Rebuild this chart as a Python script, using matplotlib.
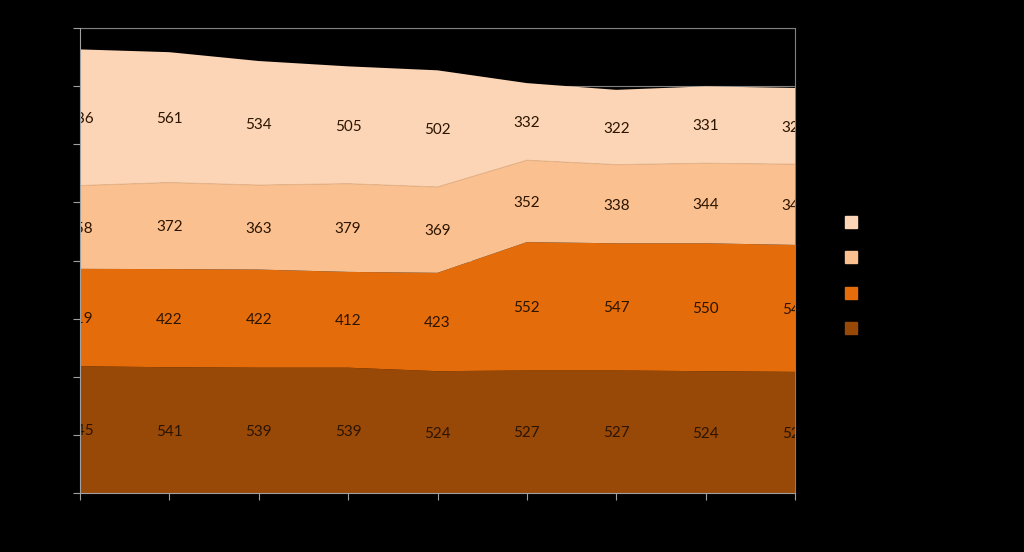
import numpy as np
import matplotlib
matplotlib.use('Agg')
import matplotlib.pyplot as plt
from matplotlib.lines import Line2D

# Data, bottom band first
categories = ['2004', '2005', '2006', '2007', '2008', '2009', '2010', '2011', '2012']
series_names = ['Serie 1', 'Serie 2', 'Serie 3', 'Serie 4']
serie1 = [545, 541, 539, 539, 524, 527, 527, 524, 521]
serie2 = [419, 422, 422, 412, 423, 552, 547, 550, 546]
serie3 = [358, 372, 363, 379, 369, 352, 338, 344, 347]
serie4 = [586, 561, 534, 505, 502, 332, 322, 331, 328]
colors = ['#984807', '#e46c0a', '#fac090', '#fbd5b5']

plt.rcParams['font.family'] = ['Lato', 'DejaVu Sans']

fig = plt.figure(figsize=(10.24, 5.52), dpi=100, facecolor='black')
ax = fig.add_axes([80/1024, 1-493/552, 715/1024, 465/552])
ax.set_facecolor('black')

x = np.arange(len(categories))
data = [serie1, serie2, serie3, serie4]
ax.stackplot(x, *data, colors=colors, zorder=2, linewidth=0)

# thin boundary line between the two light bands
cum = np.cumsum(np.array(data), axis=0)
ax.plot(x, cum[2], color='#e8b58a', lw=0.8, zorder=3)

# value labels in the middle of each band
bottom = np.zeros(len(x))
for vals in data:
    vals = np.array(vals)
    for xi, b, v in zip(x, bottom, vals):
        ax.text(xi, b + v / 2, str(v), ha='center', va='center_baseline',
                fontsize=11, color='#2b1400', clip_on=True, zorder=4)
    bottom = bottom + vals

ax.set_xlim(0, 8)
ax.set_ylim(0, 2000)
ax.set_yticks(np.arange(0, 2001, 250))
ax.set_xticks(x)
ax.set_xticklabels(categories)
ax.yaxis.grid(True, color='#808080', lw=0.8, zorder=0)
ax.set_axisbelow(True)
ax.tick_params(axis='both', colors='#a0a0a0', labelcolor='black', length=5, width=0.8)

for side in ['left', 'bottom']:
    ax.spines[side].set_color('#a0a0a0')
    ax.spines[side].set_zorder(5)
for side in ['top', 'right']:
    ax.spines[side].set_color('#808080')
    ax.spines[side].set_zorder(1)
    ax.spines[side].set_linewidth(0.8)

# legend: top entry is the top band
handles = [Line2D([], [], marker='s', ls='none', markersize=9, color=c,
                  markeredgecolor=c) for c in colors[::-1]]
fig.legend(handles, series_names[::-1], loc='upper left',
           bbox_to_anchor=(830/1024, 1-203/552), frameon=False,
           fontsize=11, labelcolor='black', labelspacing=1.38,
           handlelength=1.0, handletextpad=0.6)

fig.savefig('out.png', dpi=100, facecolor='black')
